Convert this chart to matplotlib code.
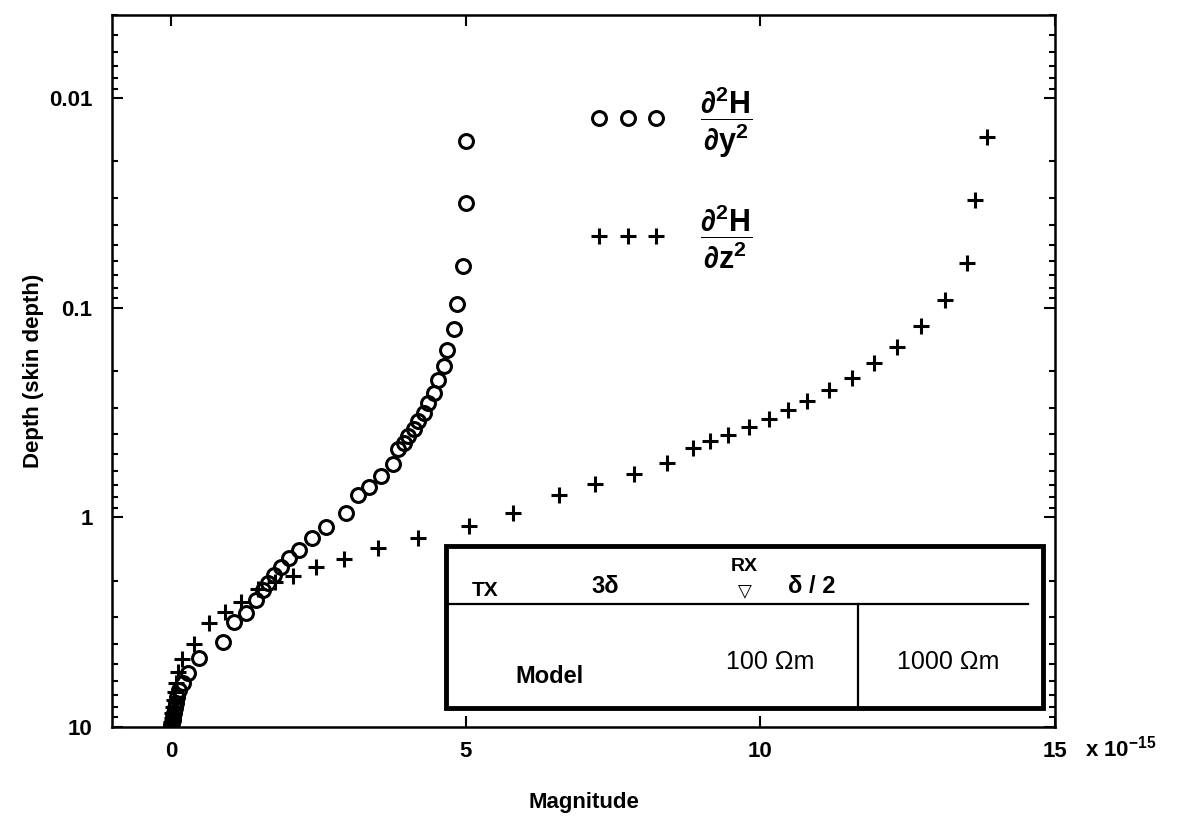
import matplotlib.pyplot as plt
from matplotlib.patches import Rectangle
from matplotlib.lines import Line2D
from matplotlib.ticker import FixedLocator, FixedFormatter, LogLocator, NullFormatter

plt.rcParams['font.family'] = ['Liberation Sans', 'DejaVu Sans']
plt.rcParams['font.weight'] = 'bold'
plt.rcParams['mathtext.fontset'] = 'custom'
plt.rcParams['mathtext.rm'] = 'Liberation Sans:bold'
plt.rcParams['mathtext.it'] = 'Liberation Sans:bold'
plt.rcParams['mathtext.bf'] = 'Liberation Sans:bold'

# magnitudes in units of 1e-15, depth in skin depths
yy_mag = [5.00, 5.00, 4.95, 4.86, 4.80, 4.69, 4.63, 4.53, 4.46, 4.36, 4.29, 4.19,
          4.12, 4.03, 3.95, 3.86, 3.76, 3.56, 3.36, 3.17, 2.97, 2.64, 2.39, 2.17,
          2.00, 1.86, 1.75, 1.64, 1.56, 1.44, 1.27, 1.07, 0.88, 0.47, 0.29, 0.20,
          0.14, 0.10, 0.08, 0.07, 0.05, 0.03, 0.03, 0.02, 0.01, 0.00]
yy_depth = [0.016, 0.0316, 0.063, 0.096, 0.126, 0.158, 0.189, 0.220, 0.254, 0.283,
            0.316, 0.345, 0.377, 0.407, 0.439, 0.469, 0.553, 0.631, 0.712, 0.785,
            0.947, 1.116, 1.259, 1.436, 1.567, 1.73, 1.889, 2.06, 2.228, 2.485,
            2.866, 3.162, 3.94, 4.69, 5.53, 6.17, 6.66, 7.20, 7.69, 8.12, 8.58,
            8.97, 9.27, 9.58, 9.78, 10.0]

zz_mag = [13.85, 13.64, 13.51, 13.14, 12.73, 12.32, 11.93, 11.56, 11.17, 10.80,
          10.47, 10.14, 9.80, 9.46, 9.15, 8.85, 8.41, 7.85, 7.19, 6.58, 5.81, 5.05,
          4.19, 3.51, 2.93, 2.47, 2.08, 1.76, 1.47, 1.19, 0.92, 0.64, 0.39, 0.19,
          0.12, 0.08, 0.07, 0.05, 0.03, 0.02, 0.02, 0.00, 0.00, 0.00]
zz_depth = [0.0153, 0.0306, 0.0611, 0.0916, 0.122, 0.153, 0.183, 0.215, 0.246,
            0.277, 0.306, 0.338, 0.369, 0.402, 0.430, 0.464, 0.547, 0.617, 0.696,
            0.777, 0.947, 1.104, 1.259, 1.405, 1.585, 1.73, 1.909, 2.04, 2.20, 2.54,
            2.83, 3.20, 4.03, 4.75, 5.47, 6.17, 6.81, 7.43, 8.03, 8.58, 9.06, 9.49,
            9.78, 10.0]

x_ticks = [0, 5, 10, 15]
x_ticklabels = ['0', '5', '10', '15']
y_ticks = [0.01, 0.1, 1, 10]
y_ticklabels = ['0.01', '0.1', '1', '10']

fig = plt.figure(figsize=(11.81, 8.19), dpi=100)
ax = fig.add_axes([0.0948, 0.1123, 0.7985, 0.8694])

l1, = ax.plot(yy_mag, yy_depth, 'o', mfc='none', mec='black', ms=10, mew=2.2, ls='none')
l2, = ax.plot(zz_mag, zz_depth, '+', color='black', ms=11, mew=2.2, ls='none')

ax.set_yscale('log')
ax.set_xlim(-1, 15)
ax.set_ylim(10, 0.004)

ax.xaxis.set_major_locator(FixedLocator(x_ticks))
ax.xaxis.set_major_formatter(FixedFormatter(x_ticklabels))
ax.yaxis.set_major_locator(FixedLocator(y_ticks))
ax.yaxis.set_major_formatter(FixedFormatter(y_ticklabels))
ax.yaxis.set_minor_locator(LogLocator(base=10, subs=range(2, 10)))
ax.yaxis.set_minor_formatter(NullFormatter())

ax.tick_params(which='both', direction='in', top=True, right=True, width=1.5)
ax.tick_params(which='major', length=8, labelsize=16, pad=10)
ax.tick_params(axis='y', which='major', pad=14)
ax.tick_params(which='minor', length=4)
for s in ax.spines.values():
    s.set_linewidth(1.8)

ax.set_xlabel('Magnitude', fontsize=16, fontweight='bold', labelpad=22)
ax.set_ylabel('Depth (skin depth)', fontsize=16, fontweight='bold', labelpad=4)
ax.text(1.032, -0.042, r'x 10$^{-15}$', transform=ax.transAxes, ha='left', va='baseline',
        fontsize=16, fontweight='bold')

ax.legend([l1, l2], [r'$\dfrac{\partial^2\mathrm{H}}{\partial\mathrm{y}^2}$',
                     r'$\dfrac{\partial^2\mathrm{H}}{\partial\mathrm{z}^2}$'],
          numpoints=3, frameon=False, loc='upper left', bbox_to_anchor=(0.478, 0.941),
          fontsize=22, handlelength=2.45, handletextpad=1.13, labelspacing=1.4)

# model sketch inset
tr = ax.transAxes
ax.add_patch(Rectangle((0.354, 0.027), 0.633, 0.227, transform=tr, fill=False,
                       lw=3.5, ec='black', zorder=5))
ax.add_line(Line2D([0.354, 0.971], [0.173, 0.173], transform=tr, color='black', lw=1.6))
ax.add_line(Line2D([0.791, 0.791], [0.027, 0.173], transform=tr, color='black', lw=1.6))
ax.text(0.396, 0.192, 'TX', transform=tr, ha='center', va='center', fontsize=15)
ax.text(0.523, 0.197, '3δ', transform=tr, ha='center', va='center', fontsize=17)
ax.text(0.671, 0.226, 'RX', transform=tr, ha='center', va='center', fontsize=14)
ax.text(0.671, 0.190, '▽', transform=tr, ha='center', va='center', fontsize=13,
        fontweight='bold')
ax.text(0.742, 0.197, 'δ / 2', transform=tr, ha='center', va='center', fontsize=17)
ax.text(0.464, 0.071, 'Model', transform=tr, ha='center', va='center', fontsize=17,
        fontweight='heavy')
ax.text(0.698, 0.091, '100 Ωm', transform=tr, ha='center', va='center', fontsize=18,
        fontweight='normal')
ax.text(0.887, 0.091, '1000 Ωm', transform=tr, ha='center', va='center', fontsize=18,
        fontweight='normal')

fig.savefig('out.png', dpi=100)
